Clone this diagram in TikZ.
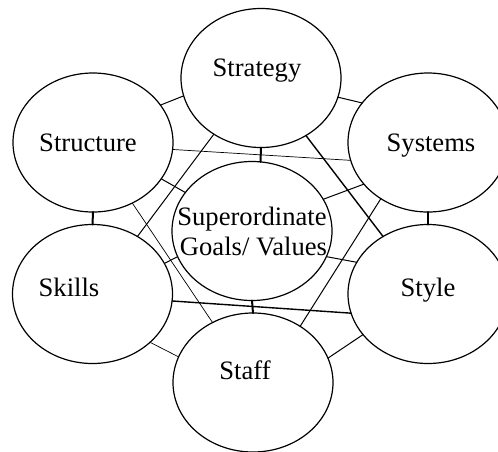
\documentclass[tikz,border=0pt]{standalone}
\usepackage{fontspec}
\setmainfont{Liberation Serif}
\usetikzlibrary{shapes.geometric}
\begin{document}
\begin{tikzpicture}[x=0.5pt,y=-0.5pt,line join=round,line cap=round,
  oval/.style={draw,ellipse,line width=0.6pt,minimum width=80pt,minimum height=69.5pt,inner sep=0pt,outer sep=0pt},
  word/.style={anchor=base,inner sep=0pt,font=\fontsize{13.3}{15}\selectfont},
  link/.style={line width=0.5pt},
  faint/.style={line width=0.35pt},
  bold/.style={line width=0.7pt},
  tie/.style={line width=1pt}]
\useasboundingbox (0,0) rectangle (498,451);
% the seven ovals
\node[oval] (strategy) at (261,78) {};
\node[oval] (structure) at (93,142.5) {};
\node[oval] (systems) at (428,142.5) {};
\node[oval] (values) at (252,231) {};
\node[oval] (skills) at (92.5,294) {};
\node[oval] (style) at (428,294) {};
\node[oval] (staff) at (253,382.5) {};
\node[word] (strategytext) at (257,76) {Strategy};
\node[word] (structuretext) at (88,151) {Structure};
\node[word] (systemstext) at (431,151) {Systems};
\node[word] (valuestext) at (252,225) {Superordinate};
\node[word] (goalstext) at (253.5,255) {Goals/ Values};
\node[word] (skillstext) at (69,296) {Skills};
\node[word] (styletext) at (428,296) {Style};
\node[word] (stafftext) at (245,379) {Staff};

% ring
\draw[link] (structure.29.2) -- (strategy.193.9);
\draw[link] (strategy.-14) -- (systems.149.8);
\draw[tie] (systems.south) -- (style.north);
\draw[link] (style.212.9) -- (staff.18.5);
\draw[faint] (staff.161.2) -- (skills.-40.7);
\draw[tie] (skills.north) -- (structure.south);
% spokes
\draw[tie] (strategy.south) -- (values.83.4);
\draw[link] (systems.213.6) -- (values.24);
\draw[link] (style.156.9) -- (values.-19.6);
\draw[tie] (values.south) -- (staff.north);
\draw[link] (skills.23.5) -- (values.199.4);
\draw[link] (structure.-28.7) -- (values.150.4);
% long links
\draw[faint] (structure.-5.4) -- (systems.193.1);
\draw[bold] (skills.-5) -- (style.194.2);
\draw[link] (strategy.230.9) -- (skills.52.4);
\draw[bold] (strategy.-52.1) -- (style.128.5);
\draw[faint] (structure.-57.8) -- (staff.124.3);
\draw[link] (systems.230.7) -- (staff.50.7);
\end{tikzpicture}
\end{document}
